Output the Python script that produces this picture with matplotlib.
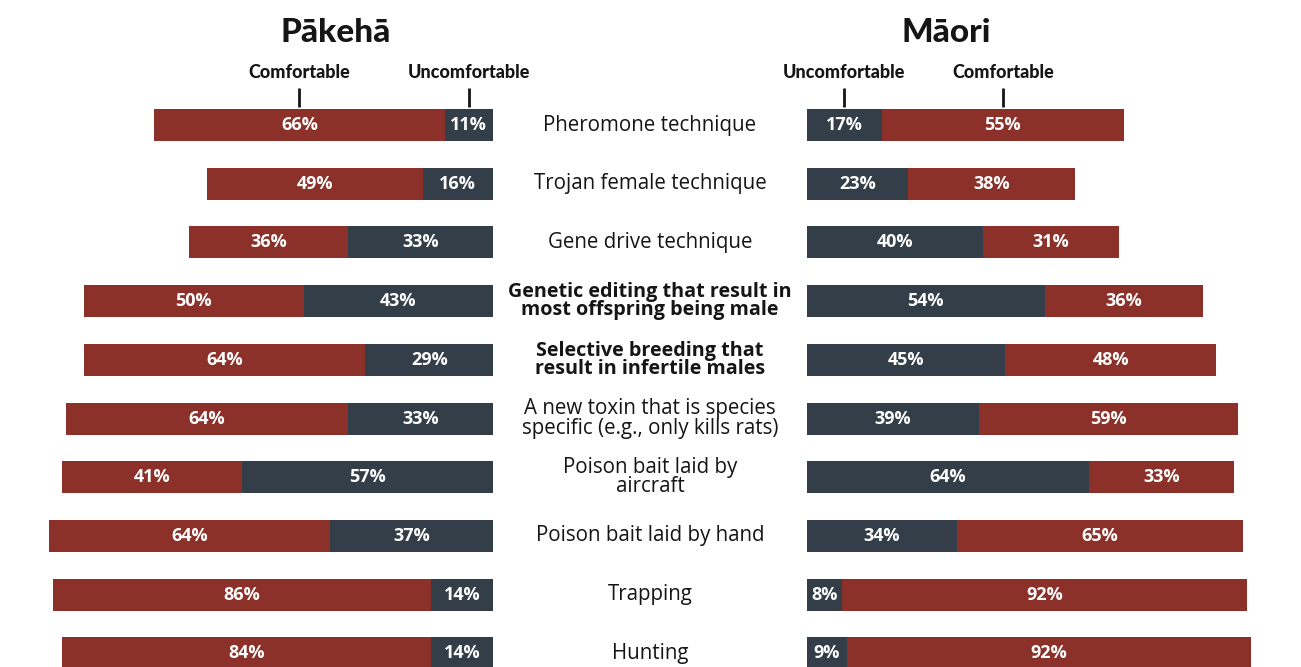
import matplotlib
matplotlib.use("Agg")
import matplotlib.pyplot as plt
from matplotlib.transforms import blended_transform_factory

# ---- data ----
methods = [
    "Pheromone technique",
    "Trojan female technique",
    "Gene drive technique",
    "Genetic editing that result in\nmost offspring being male",
    "Selective breeding that\nresult in infertile males",
    "A new toxin that is species\nspecific (e.g., only kills rats)",
    "Poison bait laid by\naircraft",
    "Poison bait laid by hand",
    "Trapping",
    "Hunting",
]
bold_methods = [False, False, False, True, True, False, False, False, False, False]
pakeha_comfortable = [66, 49, 36, 50, 64, 64, 41, 64, 86, 84]
pakeha_uncomfortable = [11, 16, 33, 43, 29, 33, 57, 37, 14, 14]
maori_comfortable = [55, 38, 31, 36, 48, 59, 33, 65, 92, 92]
maori_uncomfortable = [17, 23, 40, 54, 45, 39, 64, 34, 8, 9]
panel_titles = ["Pākehā", "Māori"]
legend_labels = ["Comfortable", "Uncomfortable"]

RED = "#8B3129"
DARK = "#333E48"
TXT = "#151515"

W, H = 1301, 667
fig = plt.figure(figsize=(W / 100, H / 100), dpi=100)
fig.patch.set_facecolor("white")

scale = 4.4  # pixels per percent
row_px = 58.7
first_px = 125
ylim = ((H - first_px) / row_px, -first_px / row_px)
bar_h = 32 / row_px

left_edge = 493
right_edge = 807
axL = fig.add_axes([0, 0, left_edge / W, 1])
axR = fig.add_axes([right_edge / W, 0, (W - right_edge) / W, 1])
axL.set_xlim(left_edge / scale, 0)
axR.set_xlim(0, (W - right_edge) / scale)

rows = list(range(len(methods)))
for ax, comf, unc in [(axL, pakeha_comfortable, pakeha_uncomfortable),
                      (axR, maori_comfortable, maori_uncomfortable)]:
    ax.set_ylim(*ylim)
    ax.axis("off")
    ax.barh(rows, unc, left=0, height=bar_h, color=DARK, linewidth=0)
    ax.barh(rows, comf, left=unc, height=bar_h, color=RED, linewidth=0)
    for i in rows:
        ax.text(unc[i] / 2, i, f"{unc[i]}%", color="white", ha="center",
                va="center", fontsize=13, fontweight="bold",
                family="Open Sans")
        ax.text(unc[i] + comf[i] / 2, i, f"{comf[i]}%", color="white",
                ha="center", va="center", fontsize=13, fontweight="bold",
                family="Open Sans")
    # legend markers above first row
    c_x = unc[0] + comf[0] / 2
    u_x = unc[0] / 2
    for x, lab in [(c_x, legend_labels[0]), (u_x, legend_labels[1])]:
        ax.plot([x, x], [-(first_px - 88) / row_px, -(first_px - 107) / row_px],
                color=TXT, lw=2, clip_on=False, solid_capstyle="butt")
        ax.text(x, -(first_px - 73) / row_px, lab, ha="center", va="center",
                fontsize=13, fontweight="black", family="Lato", color=TXT,
                clip_on=False)

# center labels
tr = blended_transform_factory(fig.transFigure, axL.transData)
for i, m in enumerate(methods):
    fig.text(650 / W, i, m, transform=tr, ha="center", va="center",
             fontsize=14.8 if not bold_methods[i] else 14.2,
             fontweight="bold" if bold_methods[i] else "normal",
             family="Open Sans", color=TXT, linespacing=0.9)

# titles
fig.text(336 / W, 1 - 42 / H, panel_titles[0], ha="center", va="baseline",
         fontsize=24, fontweight="black", family="Lato", color=TXT)
fig.text(946 / W, 1 - 42 / H, panel_titles[1], ha="center", va="baseline",
         fontsize=24, fontweight="black", family="Lato", color=TXT)

fig.savefig("out.png", dpi=100, facecolor="white")
